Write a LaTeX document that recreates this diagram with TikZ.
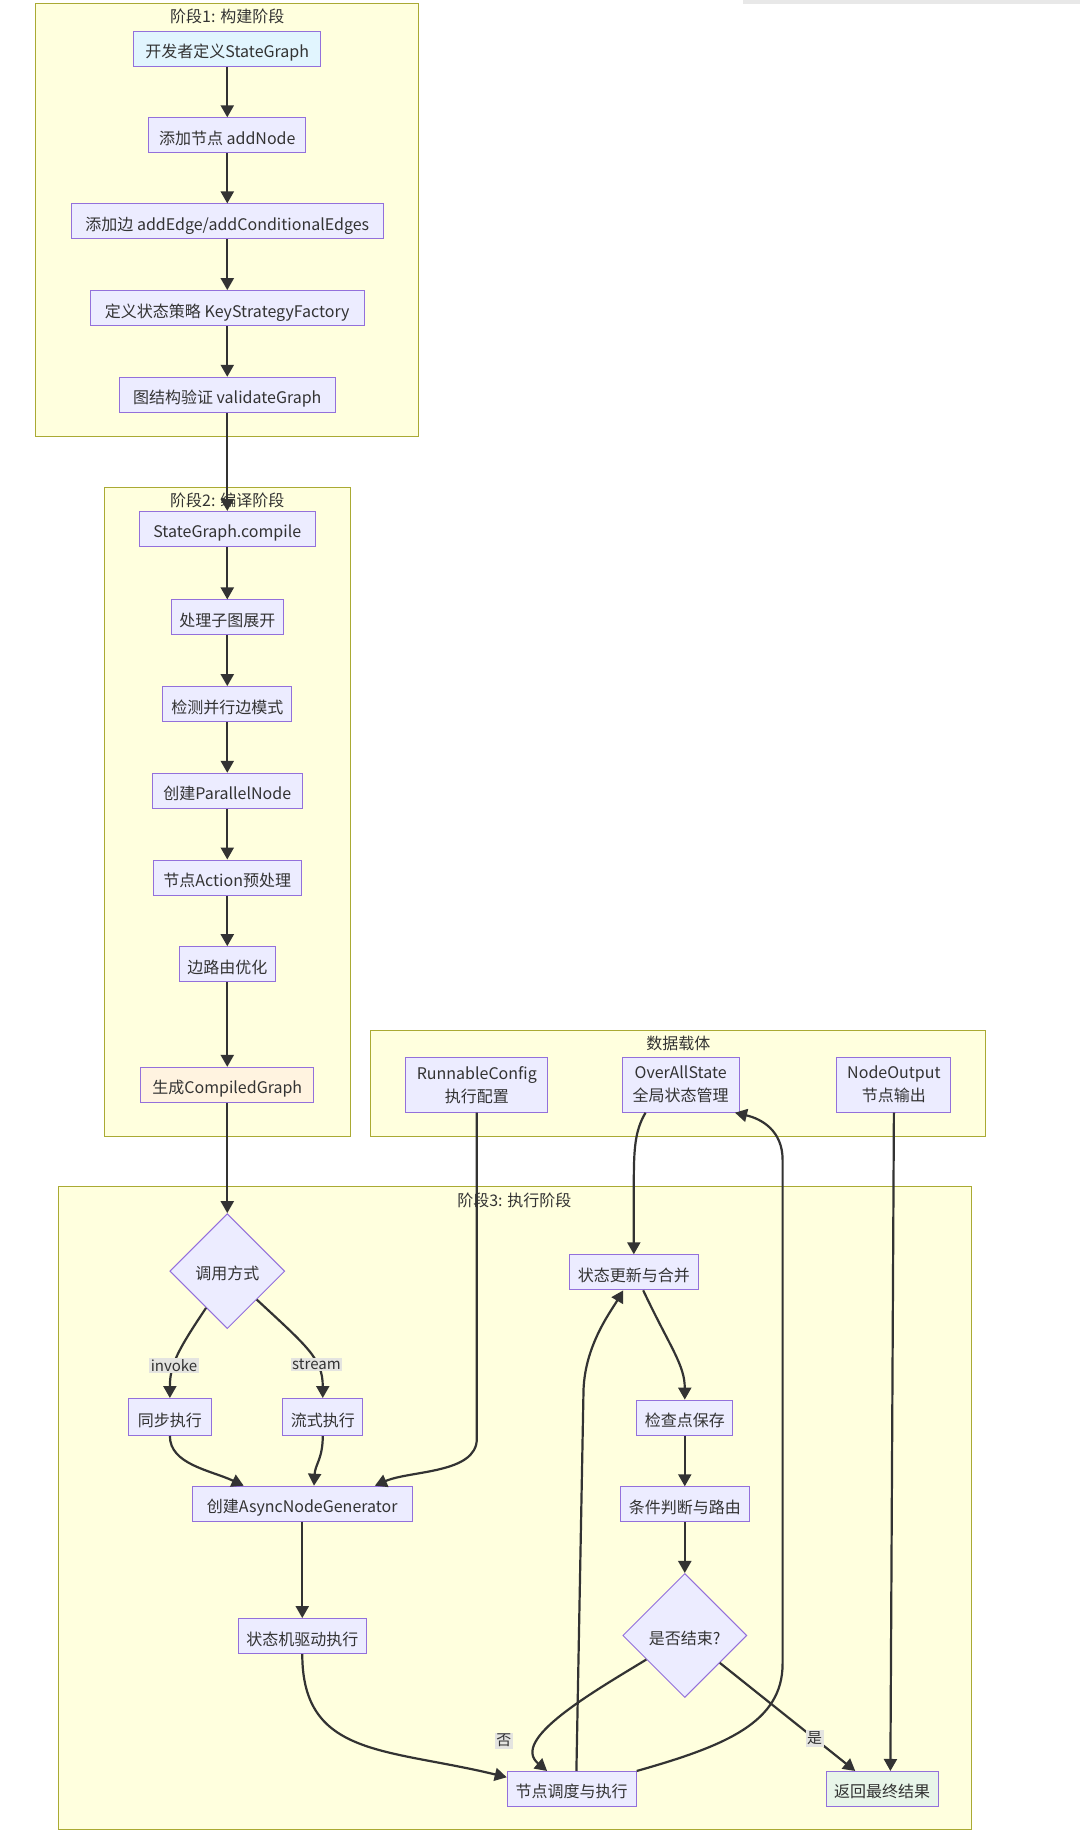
\documentclass[tikz,border=0pt]{standalone}
\usepackage{fontspec}
\setmainfont{Noto Sans CJK SC}
\usetikzlibrary{arrows.meta,shapes.geometric,calc}
\definecolor{clfill}{HTML}{FFFFDE}
\definecolor{clline}{HTML}{AAAA33}
\definecolor{nfill}{HTML}{ECECFF}
\definecolor{nline}{HTML}{9370DB}
\definecolor{txt}{HTML}{333333}
\definecolor{bluefill}{HTML}{E1F5FE}
\definecolor{orangefill}{HTML}{FFF3E0}
\definecolor{greenfill}{HTML}{E8F5E9}
\definecolor{lblfill}{HTML}{E4E4E0}
\newcommand{\mynf}{\fontsize{16pt}{23pt}\selectfont}
\newcommand{\mylf}{\fontsize{15pt}{18pt}\selectfont}
\begin{document}
\begin{tikzpicture}[x=1.1714pt,y=-1.1714pt,
 basebox/.style={draw=nline, fill=nfill, line width=1pt, inner sep=0pt, minimum height=35pt, text=txt, font=\mynf, align=center},
 box/.style={basebox, text height=19pt, text depth=1pt},
 twobox/.style={basebox, minimum height=55pt, yshift=-1pt},
 dia/.style={diamond, draw=nline, fill=nfill, line width=1pt, inner sep=0pt, text=txt, font=\mynf, aspect=1, text height=18pt, text depth=1pt},
 cluster/.style={draw=clline, fill=clfill, line width=1pt},
 ctitle/.style={text=txt, font=\mynf, inner sep=0pt},
 edge/.style={draw=txt, line width=2.2pt, -{Triangle[length=12pt,width=13pt]}},
 lbl/.style={fill=lblfill, text=txt, font=\mylf, inner sep=1.5pt}]
\fill[white] (0,0) rectangle (922,1568);
\useasboundingbox (0,0) rectangle (922,1568);
\fill[gray!18] (634,0) rectangle (922,3.5);

% clusters
\draw[cluster] (30,3) rectangle (357,373);
\node[ctitle] (t1) at (194,14) {阶段1: 构建阶段};
\draw[cluster] (89,416) rectangle (299,970);
\node[ctitle] (t2) at (194,427) {阶段2: 编译阶段};
\draw[cluster] (316,880) rectangle (841,970);
\node[ctitle] (t4) at (579,891) {数据载体};
\draw[cluster] (50,1013) rectangle (829,1562);
\node[ctitle] (t3) at (439,1025) {阶段3: 执行阶段};

% stage 1
\node[box, fill=bluefill, minimum width=187pt] (A1) at (194,41.5) {开发者定义StateGraph};
\node[box, minimum width=157pt] (A2) at (194,115.5) {添加节点 addNode};
\node[box, minimum width=312pt] (A3) at (194,189) {添加边 addEdge/addConditionalEdges};
\node[box, minimum width=274pt] (A4) at (194,263) {定义状态策略 KeyStrategyFactory};
\node[box, minimum width=216pt] (A5) at (194,337) {图结构验证 validateGraph};

% stage 2
\node[box, minimum width=176pt] (B1) at (194,451.5) {StateGraph.compile};
\node[box, minimum width=112pt] (B2) at (194,527) {处理子图展开};
\node[box, minimum width=129pt] (B3) at (194,601) {检测并行边模式};
\node[box, minimum width=150pt] (B4) at (194,675) {创建ParallelNode};
\node[box, minimum width=148pt] (B5) at (194,749) {节点Action预处理};
\node[box, minimum width=96pt] (B6) at (194,823) {边路由优化};
\node[box, fill=orangefill, minimum width=173pt] (B7) at (194,926) {生成CompiledGraph};

% data
\node[twobox, minimum width=142pt] (D1) at (407,925) {RunnableConfig\\执行配置};
\node[twobox, minimum width=117pt] (D2) at (581,925) {OverAllState\\全局状态管理};
\node[twobox, minimum width=114pt] (D3) at (763,925) {NodeOutput\\节点输出};

% stage 3
\node[dia, minimum width=115pt, minimum height=115pt] (C1) at (194,1085) {调用方式};
\node[box, minimum width=83pt, minimum height=37pt] (C2) at (145,1209.5) {同步执行};
\node[box, minimum width=80pt, minimum height=37pt] (C3) at (275.5,1209.5) {流式执行};
\node[box, minimum width=220pt] (C4) at (258,1283.5) {创建AsyncNodeGenerator};
\node[box, minimum width=128pt] (C5) at (258,1396.5) {状态机驱动执行};
\node[box, minimum width=129pt] (C6) at (488,1527) {节点调度与执行};
\node[box, minimum width=129pt] (C7) at (541,1086) {状态更新与合并};
\node[box, minimum width=96pt] (C8) at (584.5,1210) {检查点保存};
\node[box, minimum width=129pt] (C9) at (584.5,1284) {条件判断与路由};
\node[dia, minimum width=124pt, minimum height=124pt] (C10) at (584.5,1396) {是否结束?};
\node[box, fill=greenfill, minimum width=112pt] (C11) at (753,1527) {返回最终结果};

% edges
\draw[edge] (A1) -- (A2);
\draw[edge] (A2) -- (A3);
\draw[edge] (A3) -- (A4);
\draw[edge] (A4) -- (A5);
\draw[edge] (A5) -- (B1);
\draw[edge] (B1) -- (B2);
\draw[edge] (B2) -- (B3);
\draw[edge] (B3) -- (B4);
\draw[edge] (B4) -- (B5);
\draw[edge] (B5) -- (B6);
\draw[edge] (B6) -- (B7);
\draw[edge] (B7) -- (C1);
\draw[edge] (C1.240) .. controls (152,1152) and (145,1165) .. node[lbl,pos=0.62]{invoke} (C2.north);
\draw[edge] (C1.-44) .. controls (263,1150) and (275.5,1160) .. node[lbl,pos=0.65]{stream} (C3.north);
\draw[edge] (C2.south) .. controls (145,1250) and (180,1255) .. ($(C4.north)+(-50,0)$);
\draw[edge] (C3.south) .. controls (275.5,1245) and (269,1250) .. ($(C4.north)+(10,0)$);
\draw[edge] (D1.south) -- (407,1228) .. controls (407,1258) and (350,1255) .. ($(C4.north)+(62,0)$);
\draw[edge] (C4) -- (C5);
\draw[edge] (C5.south) .. controls (258,1500) and (330,1492) .. ($(C6.west)+(0,-10)$);
\draw[edge] ($(D2.south)+(-30,0)$) .. controls (542,965) and (541,980) .. (541,1010) -- (C7.north);
\draw[edge] ($(C7.south)+(8,0)$) .. controls (572,1150) and (584.5,1165) .. (C8.north);
\draw[edge] (C8) -- (C9);
\draw[edge] (C9) -- (C10);
\draw[edge] (C10.212) .. controls (505,1445) and (435,1485) .. node[lbl,pos=0.8,xshift=-34pt,yshift=10pt]{否} ($(C6.north)+(-21,0)$);
\draw[edge] (C10.-38) -- node[lbl,pos=0.7]{是} ($(C11.north)+(-23,0)$);
\draw[edge] ($(C6.north)+(4,0)$) -- (498,1190) .. controls (498,1150) and (521,1120) .. ($(C7.south)+(-9,0)$);
\draw[edge] (C6.north east) .. controls (620,1490) and (668,1470) .. (668,1420) -- (668,990) .. controls (668,965) and (650,955) .. ($(D2.south east)+(-4,0)$);
\draw[edge] (D3.south) -- ($(C11.north)+(7,0)$);
\end{tikzpicture}
\end{document}
